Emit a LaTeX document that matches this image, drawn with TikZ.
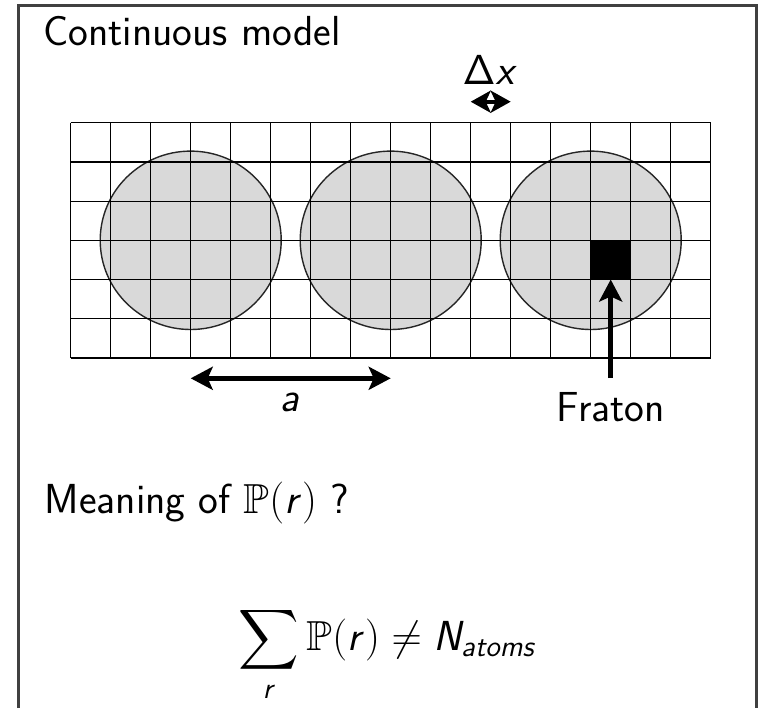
\documentclass[tikz,border=0pt]{standalone}
\usepackage{fix-cm}
\usepackage{amsmath,amssymb}
\usetikzlibrary{arrows.meta}
\DeclareMathAlphabet{\mathsfit}{OT1}{cmss}{m}{sl}
\DeclareMathAlphabet{\mathsfup}{OT1}{cmss}{m}{n}
\begin{document}
\begin{tikzpicture}[x=0.5pt,y=-0.5pt,
  every node/.style={inner sep=0pt,outer sep=0pt,font=\sffamily\fontsize{21}{25}\selectfont},
  atom/.style={fill=black!15,draw=black!85,line width=0.7pt},
  gridline/.style={black,line width=0.6pt},
  bigarrow/.style={line width=2.5pt},
  bighead/.tip={Stealth[length=11pt,width=11.5pt,inset=2.5pt]},
  smallhead/.tip={Stealth[length=10pt,width=11pt,inset=2.5pt]},
  frameline/.style={black!75,line width=1.2pt}]
\useasboundingbox (0,0) rectangle (761,708);
% frame
\draw[frameline] (18.5,708) -- (18.5,5.5) -- (756.5,5.5) -- (756.5,708);
% atoms
\foreach \cx/\nm in {190.7/atomA,390.7/atomB,590.7/atomC}{
  \draw[atom] (\cx,240.3) ellipse [x radius=45.25pt, y radius=44.6pt];
  \coordinate (\nm) at (\cx,240.3);
}
% grid
\foreach \i in {0,...,16}{
  \draw[gridline] ({70.7+40*\i},122.7) -- ({70.7+40*\i},358);
}
\foreach \j in {0,...,6}{
  \draw[gridline] (70.7,{122.7+39.22*\j}) -- (710.7,{122.7+39.22*\j});
}
% fraton cell
\fill[black] (590.7,240.3) rectangle (630.7,279.52);
\coordinate (cell) at (610.7,279.52);
% texts
\node[anchor=base west] (title) at (43.3,45) {Continuous model};
\node[anchor=base west] (dx) at (462.7,84.3) {$\mathsfup{\Delta}\mathsfit{x}$};
\node[anchor=base] (alab) at (290,411.7) {$\mathsfit{a}$};
\node[anchor=base] (fraton) at (610.7,421.7) {Fraton};
\node[anchor=base west] (question) at (45,513.3) {Meaning of $\mathbb{P}(\mathsfit{r})$ ?};
\node[anchor=base] (sum) at (388,650) {$\displaystyle\sum_{\mathsfit{r}}\mathbb{P}(\mathsfit{r})\neq \mathsfit{N}_{\mathsfit{atoms}}$};
% arrows
\coordinate (dxl) at (470.7,101.7);
\coordinate (dxr) at (510.7,101.7);
\draw[line width=2pt,{smallhead}-{smallhead}] (dxl) -- (dxr);
\coordinate (al) at (190.7,378.3);
\coordinate (ar) at (390.7,378.3);
\draw[bigarrow,{bighead}-{bighead}] (al) -- (ar);
\coordinate (ftail) at (610.7,378);
\draw[bigarrow,-{bighead}] (ftail) -- (cell);
\end{tikzpicture}
\end{document}
